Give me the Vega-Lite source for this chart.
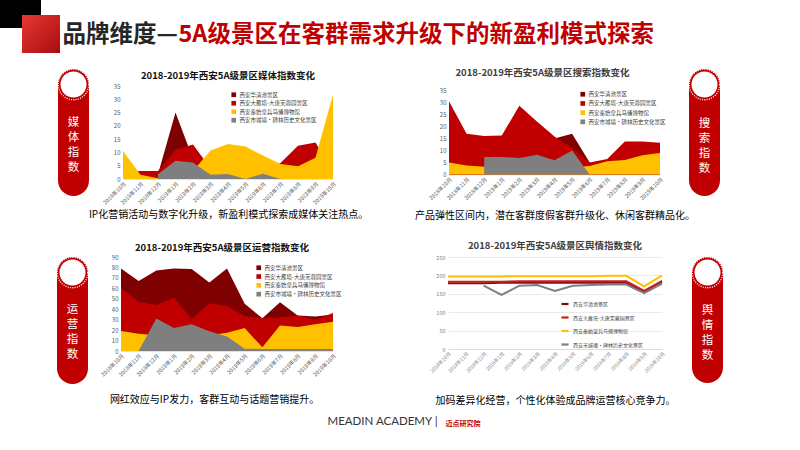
{
  "$schema": "https://vega.github.io/schema/vega-lite/v6.json",
  "background": "white",
  "padding": 0,
  "spacing": 0,
  "resolve": {"scale": {"color": "independent"}, "legend": {"color": "independent"}},
  "config": {
    "view": {"stroke": null},
    "font": "Noto Sans CJK SC"
  },
  "datasets": {
    "media": [
      {"m": "2018年10月", "西安华清池景区": 1, "西安大雁塔-大唐芙蓉园景区": 3, "西安秦始皇兵马俑博物馆": 10.5, "西安市城墙·碑林历史文化景区": null},
      {"m": "2018年11月", "西安华清池景区": 1, "西安大雁塔-大唐芙蓉园景区": 3, "西安秦始皇兵马俑博物馆": 1.6, "西安市城墙·碑林历史文化景区": null},
      {"m": "2018年12月", "西安华清池景区": 1.8, "西安大雁塔-大唐芙蓉园景区": 3, "西安秦始皇兵马俑博物馆": 0.3, "西安市城墙·碑林历史文化景区": 1.8},
      {"m": "2019年1月", "西安华清池景区": 25, "西安大雁塔-大唐芙蓉园景区": 11, "西安秦始皇兵马俑博物馆": 0, "西安市城墙·碑林历史文化景区": 6.9},
      {"m": "2019年2月", "西安华清池景区": 7.5, "西安大雁塔-大唐芙蓉园景区": 13, "西安秦始皇兵马俑博物馆": 3, "西安市城墙·碑林历史文化景区": 6.2},
      {"m": "2019年3月", "西安华清池景区": 2.5, "西安大雁塔-大唐芙蓉园景区": 4, "西安秦始皇兵马俑博物馆": 10.7, "西安市城墙·碑林历史文化景区": 1.6},
      {"m": "2019年4月", "西安华清池景区": 2, "西安大雁塔-大唐芙蓉园景区": 3, "西安秦始皇兵马俑博物馆": 13.2, "西安市城墙·碑林历史文化景区": 1.9},
      {"m": "2019年5月", "西安华清池景区": 1.5, "西安大雁塔-大唐芙蓉园景区": 3, "西安秦始皇兵马俑博物馆": 12.2, "西安市城墙·碑林历史文化景区": 0},
      {"m": "2019年6月", "西安华清池景区": 1.5, "西安大雁塔-大唐芙蓉园景区": 3, "西安秦始皇兵马俑博物馆": 8.8, "西安市城墙·碑林历史文化景区": 2},
      {"m": "2019年7月", "西安华清池景区": 1, "西安大雁塔-大唐芙蓉园景区": 6, "西安秦始皇兵马俑博物馆": 5.6, "西安市城墙·碑林历史文化景区": 0},
      {"m": "2019年8月", "西安华清池景区": 1, "西安大雁塔-大唐芙蓉园景区": 12.5, "西安秦始皇兵马俑博物馆": 4.8, "西安市城墙·碑林历史文化景区": 0},
      {"m": "2019年9月", "西安华清池景区": 1, "西安大雁塔-大唐芙蓉园景区": 13.7, "西安秦始皇兵马俑博物馆": 8, "西安市城墙·碑林历史文化景区": 0},
      {"m": "2019年10月", "西安华清池景区": 2, "西安大雁塔-大唐芙蓉园景区": 3, "西安秦始皇兵马俑博物馆": 31.8, "西安市城墙·碑林历史文化景区": 0}
    ],
    "search": [
      {"m": "2018年10月", "西安华清池景区": 2, "西安大雁塔-大唐芙蓉园景区": 30.5, "西安秦始皇兵马俑博物馆": 5, "西安市城墙·碑林历史文化景区": null},
      {"m": "2018年11月", "西安华清池景区": 2, "西安大雁塔-大唐芙蓉园景区": 17, "西安秦始皇兵马俑博物馆": 3.8, "西安市城墙·碑林历史文化景区": null},
      {"m": "2018年12月", "西安华清池景区": 2, "西安大雁塔-大唐芙蓉园景区": 16, "西安秦始皇兵马俑博物馆": 3.2, "西安市城墙·碑林历史文化景区": 7.3},
      {"m": "2019年1月", "西安华清池景区": 2, "西安大雁塔-大唐芙蓉园景区": 16.3, "西安秦始皇兵马俑博物馆": 3, "西安市城墙·碑林历史文化景区": 7.3},
      {"m": "2019年2月", "西安华清池景区": 3, "西安大雁塔-大唐芙蓉园景区": 28.6, "西安秦始皇兵马俑博物馆": 3, "西安市城墙·碑林历史文化景区": 6.9},
      {"m": "2019年3月", "西安华清池景区": 8, "西安大雁塔-大唐芙蓉园景区": 22.1, "西安秦始皇兵马俑博物馆": 3, "西安市城墙·碑林历史文化景区": 8.2},
      {"m": "2019年4月", "西安华清池景区": 15, "西安大雁塔-大唐芙蓉园景区": 15.8, "西安秦始皇兵马俑博物馆": 3, "西安市城墙·碑林历史文化景区": 5.9},
      {"m": "2019年5月", "西安华清池景区": 17, "西安大雁塔-大唐芙蓉园景区": 11, "西安秦始皇兵马俑博物馆": 3, "西安市城墙·碑林历史文化景区": 10},
      {"m": "2019年6月", "西安华清池景区": 5, "西安大雁塔-大唐芙蓉园景区": 5, "西安秦始皇兵马俑博物馆": 3.5, "西安市城墙·碑林历史文化景区": 0},
      {"m": "2019年7月", "西安华清池景区": 3, "西安大雁塔-大唐芙蓉园景区": 6.5, "西安秦始皇兵马俑博物馆": 5.5, "西安市城墙·碑林历史文化景区": 0},
      {"m": "2019年8月", "西安华清池景区": 3, "西安大雁塔-大唐芙蓉园景区": 13.8, "西安秦始皇兵马俑博物馆": 6, "西安市城墙·碑林历史文化景区": 0},
      {"m": "2019年9月", "西安华清池景区": 3, "西安大雁塔-大唐芙蓉园景区": 13.8, "西安秦始皇兵马俑博物馆": 8, "西安市城墙·碑林历史文化景区": 0},
      {"m": "2019年10月", "西安华清池景区": 3, "西安大雁塔-大唐芙蓉园景区": 13.2, "西安秦始皇兵马俑博物馆": 9, "西安市城墙·碑林历史文化景区": 0}
    ],
    "ops": [
      {"m": "2018年10月", "西安华清池景区": 79, "西安大雁塔-大唐芙蓉园景区": 60.6, "西安秦始皇兵马俑博物馆": 19.1, "西安市城墙·碑林历史文化景区": null},
      {"m": "2018年11月", "西安华清池景区": 67, "西安大雁塔-大唐芙蓉园景区": 47, "西安秦始皇兵马俑博物馆": 16.6, "西安市城墙·碑林历史文化景区": 0},
      {"m": "2018年12月", "西安华清池景区": 77, "西安大雁塔-大唐芙蓉园景区": 44, "西安秦始皇兵马俑博物馆": 15, "西安市城墙·碑林历史文化景区": 31},
      {"m": "2019年1月", "西安华清池景区": 79, "西安大雁塔-大唐芙蓉园景区": 51, "西安秦始皇兵马俑博物馆": 15, "西安市城墙·碑林历史文化景区": 22},
      {"m": "2019年2月", "西安华清池景区": 78.5, "西安大雁塔-大唐芙蓉园景区": 30.3, "西安秦始皇兵马俑博物馆": 15, "西安市城墙·碑林历史文化景区": 25.5},
      {"m": "2019年3月", "西安华清池景区": 65.5, "西安大雁塔-大唐芙蓉园景区": 45.6, "西安秦始皇兵马俑博物馆": 15, "西安市城墙·碑林历史文化景区": 19},
      {"m": "2019年4月", "西安华清池景区": 79, "西安大雁塔-大唐芙蓉园景区": 43, "西安秦始皇兵马俑博物馆": 17.5, "西安市城墙·碑林历史文化景区": 14},
      {"m": "2019年5月", "西安华清池景区": 45.3, "西安大雁塔-大唐芙蓉园景区": 33.2, "西安秦始皇兵马俑博物馆": 22, "西安市城墙·碑林历史文化景区": 2.2},
      {"m": "2019年6月", "西安华清池景区": 31.3, "西安大雁塔-大唐芙蓉园景区": 31.5, "西安秦始皇兵马俑博物馆": 3.5, "西安市城墙·碑林历史文化景区": 2},
      {"m": "2019年7月", "西安华清池景区": 46.6, "西安大雁塔-大唐芙蓉园景区": 32, "西安秦始皇兵马俑博物馆": 24.3, "西安市城墙·碑林历史文化景区": 2},
      {"m": "2019年8月", "西安华清池景区": 34, "西安大雁塔-大唐芙蓉园景区": 34, "西安秦始皇兵马俑博物馆": 23, "西安市城墙·碑林历史文化景区": 2},
      {"m": "2019年9月", "西安华清池景区": 33, "西安大雁塔-大唐芙蓉园景区": 30, "西安秦始皇兵马俑博物馆": 25.5, "西安市城墙·碑林历史文化景区": 2},
      {"m": "2019年10月", "西安华清池景区": 35, "西安大雁塔-大唐芙蓉园景区": 36.5, "西安秦始皇兵马俑博物馆": 28.1, "西安市城墙·碑林历史文化景区": 2}
    ],
    "opinion": [
      {"m": "2018年10月", "西安华清池景区": 179, "西安大雁塔-大唐芙蓉园景区": 183, "西安秦始皇兵马俑博物馆": 197, "西安市城墙·碑林历史文化景区": null},
      {"m": "2018年11月", "西安华清池景区": 179, "西安大雁塔-大唐芙蓉园景区": 183, "西安秦始皇兵马俑博物馆": 197, "西安市城墙·碑林历史文化景区": null},
      {"m": "2018年12月", "西安华清池景区": 179, "西安大雁塔-大唐芙蓉园景区": 183, "西安秦始皇兵马俑博物馆": 197, "西安市城墙·碑林历史文化景区": 172},
      {"m": "2019年1月", "西安华清池景区": 180, "西安大雁塔-大唐芙蓉园景区": 183, "西安秦始皇兵马俑博物馆": 197, "西安市城墙·碑林历史文化景区": 147},
      {"m": "2019年2月", "西安华清池景区": 180, "西安大雁塔-大唐芙蓉园景区": 184, "西安秦始皇兵马俑博物馆": 198, "西安市城墙·碑林历史文化景区": 172},
      {"m": "2019年3月", "西安华清池景区": 180, "西安大雁塔-大唐芙蓉园景区": 184, "西安秦始皇兵马俑博物馆": 198, "西安市城墙·碑林历史文化景区": 174},
      {"m": "2019年4月", "西安华清池景区": 180, "西安大雁塔-大唐芙蓉园景区": 184, "西安秦始皇兵马俑博物馆": 198, "西安市城墙·碑林历史文化景区": 158},
      {"m": "2019年5月", "西安华清池景区": 180, "西安大雁塔-大唐芙蓉园景区": 184, "西安秦始皇兵马俑博物馆": 198, "西安市城墙·碑林历史文化景区": 172},
      {"m": "2019年6月", "西安华清池景区": 180, "西安大雁塔-大唐芙蓉园景区": 184, "西安秦始皇兵马俑博物馆": 198, "西安市城墙·碑林历史文化景区": 174},
      {"m": "2019年7月", "西安华清池景区": 180, "西安大雁塔-大唐芙蓉园景区": 184, "西安秦始皇兵马俑博物馆": 199, "西安市城墙·碑林历史文化景区": 175},
      {"m": "2019年8月", "西安华清池景区": 180, "西安大雁塔-大唐芙蓉园景区": 184, "西安秦始皇兵马俑博物馆": 199, "西安市城墙·碑林历史文化景区": 175},
      {"m": "2019年9月", "西安华清池景区": 155, "西安大雁塔-大唐芙蓉园景区": 158, "西安秦始皇兵马俑博物馆": 170, "西安市城墙·碑林历史文化景区": 152},
      {"m": "2019年10月", "西安华清池景区": 182, "西安大雁塔-大唐芙蓉园景区": 185, "西安秦始皇兵马俑博物馆": 200, "西安市城墙·碑林历史文化景区": 178}
    ]
  },
  "vconcat": [
    {
      "spacing": 0,
      "hconcat": [
        {
          "width": 62, "height": 66,
          "data": {"values": [{}]},
          "layer": [
            {"mark": {"type": "point", "shape": "square", "filled": true, "color": "#000000", "opacity": 1, "size": 1681, "xOffset": -10.5, "yOffset": -25.5, "clip": true, "strokeWidth": 0}, "encoding": {}},
            {"mark": {"type": "point", "shape": "square", "filled": true, "opacity": 1, "size": 1444, "xOffset": 10, "yOffset": 1, "strokeWidth": 0, "fill": {"gradient": "linear", "x1": 0, "y1": 0, "x2": 1, "y2": 1, "stops": [{"offset": 0, "color": "#e8392f"}, {"offset": 1, "color": "#a60c12"}]}}, "encoding": {}}
          ]
        },
        {
          "width": 1, "height": 66,
          "data": {"values": [{"t": "品牌维度—"}]},
          "mark": {"type": "text", "align": "left", "baseline": "middle", "fontSize": 23.5, "fontWeight": "bold", "color": "#262626", "dy": 1.5},
          "encoding": {"text": {"field": "t"}}
        },
        {
          "width": 1, "height": 66,
          "data": {"values": [{"t": "5A级景区在客群需求升级下的新盈利模式探索"}]},
          "mark": {"type": "text", "align": "left", "baseline": "middle", "fontSize": 23.5, "fontWeight": "bold", "color": "#c00000", "dy": 1.5},
          "encoding": {"text": {"field": "t"}}
        }
      ]
    },
    {
      "spacing": 0,
      "bounds": "flush",
      "center": true,
      "resolve": {"scale": {"color": "independent"}, "legend": {"color": "independent"}},
      "hconcat": [
        {"width": 58, "height": 1, "data": {"values": [{}]}, "mark": {"type": "text", "text": ""}},
        {
          "width": 31, "height": 127,
          "view": {"fill": "#c00000", "cornerRadius": 15.5, "stroke": null},
          "data": {"values": [{"t": ["媒", "体", "指", "数"]}]},
          "layer": [
            {"mark": {"type": "point", "shape": "circle", "filled": true, "color": "#ffffff", "opacity": 1, "size": 676, "yOffset": -48, "strokeWidth": 0}, "encoding": {}},
            {"mark": {"type": "point", "shape": "circle", "filled": false, "color": "#ffffff", "opacity": 1, "size": 930, "yOffset": -48, "strokeWidth": 1.3, "strokeDash": [1, 1.3]}, "encoding": {}},
            {"mark": {"type": "text", "fontSize": 11.5, "lineHeight": 15, "color": "#ffffff", "baseline": "top", "dy": -16}, "encoding": {"text": {"field": "t"}}}
          ]
        },
        {"width": 34, "height": 1, "data": {"values": [{}]}, "mark": {"type": "text", "text": ""}},
        {
          "width": 210, "height": 93,
          "title": {"text": "2018-2019年西安5A级景区媒体指数变化", "fontSize": 9.5, "fontWeight": "bold", "color": "#111111", "offset": 2.5},
          "data": {"name": "media"},
          "transform": [{"fold": ["西安华清池景区", "西安大雁塔-大唐芙蓉园景区", "西安秦始皇兵马俑博物馆", "西安市城墙·碑林历史文化景区"], "as": ["s", "v"]}],
          "mark": {"type": "area", "opacity": 1},
          "encoding": {
            "x": {"field": "m", "type": "ordinal", "sort": ["2018年10月", "2018年11月", "2018年12月", "2019年1月", "2019年2月", "2019年3月", "2019年4月", "2019年5月", "2019年6月", "2019年7月", "2019年8月", "2019年9月", "2019年10月"], "scale": {"type": "point", "padding": 0},
              "axis": {"title": "IP化营销活动与数字化升级，新盈利模式探索成媒体关注热点。", "titleFontSize": 10, "titleFontWeight": "normal", "titleColor": "#000000", "titlePadding": 4, "labelAngle": -45, "labelFontSize": 5.5, "labelColor": "#595959", "labelOverlap": false, "labelPadding": 2, "ticks": false, "domainColor": "#d9d9d9", "domainWidth": 0.8}},
            "y": {"field": "v", "type": "quantitative", "stack": null, "scale": {"domain": [0, 35]},
              "axis": {"title": null, "values": [0, 5, 10, 15, 20, 25, 30, 35], "labelFontSize": 6, "labelColor": "#595959", "domain": false, "ticks": false, "grid": false, "labelPadding": 3}},
            "color": {"field": "s", "type": "nominal",
              "scale": {"domain": ["西安华清池景区", "西安大雁塔-大唐芙蓉园景区", "西安秦始皇兵马俑博物馆", "西安市城墙·碑林历史文化景区"], "range": ["#7f0000", "#c00000", "#ffc000", "#7f7f7f"]},
              "legend": {"title": null, "orient": "none", "legendX": 108, "legendY": 6, "direction": "vertical", "symbolType": "square", "symbolSize": 22, "symbolStrokeWidth": 0, "labelFontSize": 5.5, "labelColor": "#404040", "rowPadding": 1.5, "labelOffset": 3, "padding": 0, "labelLimit": 200}}
          }
        },
        {"width": 116, "height": 1, "data": {"values": [{}]}, "mark": {"type": "text", "text": ""}},
        {
          "width": 211, "height": 84,
          "title": {"text": "2018-2019年西安5A级景区搜索指数变化", "fontSize": 9.5, "fontWeight": "bold", "color": "#404040", "offset": 10, "dx": -12},
          "data": {"name": "search"},
          "transform": [{"fold": ["西安华清池景区", "西安大雁塔-大唐芙蓉园景区", "西安秦始皇兵马俑博物馆", "西安市城墙·碑林历史文化景区"], "as": ["s", "v"]}],
          "mark": {"type": "area", "opacity": 1},
          "encoding": {
            "x": {"field": "m", "type": "ordinal", "sort": ["2018年10月", "2018年11月", "2018年12月", "2019年1月", "2019年2月", "2019年3月", "2019年4月", "2019年5月", "2019年6月", "2019年7月", "2019年8月", "2019年9月", "2019年10月"], "scale": {"type": "point", "padding": 0},
              "axis": {"title": "产品弹性区间内，潜在客群度假客群升级化、休闲客群精品化。", "titleFontSize": 10, "titleFontWeight": "normal", "titleColor": "#000000", "titlePadding": 9, "labelAngle": -45, "labelFontSize": 5.5, "labelColor": "#595959", "labelOverlap": false, "labelPadding": 2, "ticks": false, "domainColor": "#d9d9d9", "domainWidth": 0.8}},
            "y": {"field": "v", "type": "quantitative", "stack": null, "scale": {"domain": [0, 35]},
              "axis": {"title": null, "values": [0, 5, 10, 15, 20, 25, 30, 35], "labelFontSize": 6, "labelColor": "#595959", "domain": false, "ticks": false, "grid": false, "labelPadding": 3}},
            "color": {"field": "s", "type": "nominal",
              "scale": {"domain": ["西安华清池景区", "西安大雁塔-大唐芙蓉园景区", "西安秦始皇兵马俑博物馆", "西安市城墙·碑林历史文化景区"], "range": ["#7f0000", "#c00000", "#ffc000", "#7f7f7f"]},
              "legend": {"title": null, "orient": "none", "legendX": 131, "legendY": 1, "direction": "vertical", "symbolType": "square", "symbolSize": 22, "symbolStrokeWidth": 0, "labelFontSize": 5.5, "labelColor": "#404040", "rowPadding": 2.2, "labelOffset": 3, "padding": 0, "labelLimit": 200}}
          }
        },
        {"width": 29, "height": 1, "data": {"values": [{}]}, "mark": {"type": "text", "text": ""}},
        {
          "width": 31, "height": 127,
          "view": {"fill": "#c00000", "cornerRadius": 15.5, "stroke": null},
          "data": {"values": [{"t": ["搜", "索", "指", "数"]}]},
          "layer": [
            {"mark": {"type": "point", "shape": "circle", "filled": true, "color": "#ffffff", "opacity": 1, "size": 676, "yOffset": -48, "strokeWidth": 0}, "encoding": {}},
            {"mark": {"type": "point", "shape": "circle", "filled": false, "color": "#ffffff", "opacity": 1, "size": 930, "yOffset": -48, "strokeWidth": 1.3, "strokeDash": [1, 1.3]}, "encoding": {}},
            {"mark": {"type": "text", "fontSize": 11.5, "lineHeight": 15, "color": "#ffffff", "baseline": "top", "dy": -15}, "encoding": {"text": {"field": "t"}}}
          ]
        }
      ]
    },
    {"width": 1, "height": 20, "data": {"values": [{}]}, "mark": {"type": "text", "text": ""}},
    {
      "spacing": 0,
      "bounds": "flush",
      "resolve": {"scale": {"color": "independent"}, "legend": {"color": "independent"}},
      "hconcat": [
        {"width": 57, "height": 1, "data": {"values": [{}]}, "mark": {"type": "text", "text": ""}},
        {
          "width": 31, "height": 127,
          "view": {"fill": "#c00000", "cornerRadius": 15.5, "stroke": null},
          "data": {"values": [{"t": ["运", "营", "指", "数"]}]},
          "layer": [
            {"mark": {"type": "point", "shape": "circle", "filled": true, "color": "#ffffff", "opacity": 1, "size": 676, "yOffset": -48, "strokeWidth": 0}, "encoding": {}},
            {"mark": {"type": "point", "shape": "circle", "filled": false, "color": "#ffffff", "opacity": 1, "size": 930, "yOffset": -48, "strokeWidth": 1.3, "strokeDash": [1, 1.3]}, "encoding": {}},
            {"mark": {"type": "text", "fontSize": 11.5, "lineHeight": 15, "color": "#ffffff", "baseline": "top", "dy": -17}, "encoding": {"text": {"field": "t"}}}
          ]
        },
        {"width": 33, "height": 1, "data": {"values": [{}]}, "mark": {"type": "text", "text": ""}},
        {
          "width": 212, "height": 94,
          "title": {"text": "2018-2019年西安5A级景区运营指数变化", "fontSize": 9.5, "fontWeight": "bold", "color": "#111111", "offset": 1.5, "dx": -5},
          "data": {"name": "ops"},
          "transform": [{"fold": ["西安华清池景区", "西安大雁塔-大唐芙蓉园景区", "西安秦始皇兵马俑博物馆", "西安市城墙·碑林历史文化景区"], "as": ["s", "v"]}],
          "mark": {"type": "area", "opacity": 1},
          "encoding": {
            "x": {"field": "m", "type": "ordinal", "sort": ["2018年10月", "2018年11月", "2018年12月", "2019年1月", "2019年2月", "2019年3月", "2019年4月", "2019年5月", "2019年6月", "2019年7月", "2019年8月", "2019年9月", "2019年10月"], "scale": {"type": "point", "padding": 0},
              "axis": {"title": "网红效应与IP发力，客群互动与话题营销提升。", "titleFontSize": 10, "titleFontWeight": "normal", "titleColor": "#000000", "titlePadding": 17, "titleX": 93, "labelAngle": -45, "labelFontSize": 5.5, "labelColor": "#595959", "labelOverlap": false, "labelPadding": 2, "ticks": false, "domainColor": "#d9d9d9", "domainWidth": 0.8}},
            "y": {"field": "v", "type": "quantitative", "stack": null, "scale": {"domain": [0, 90]},
              "axis": {"title": null, "values": [0, 10, 20, 30, 40, 50, 60, 70, 80, 90], "labelFontSize": 6, "labelColor": "#595959", "domain": false, "ticks": false, "grid": false, "labelPadding": 3}},
            "color": {"field": "s", "type": "nominal",
              "scale": {"domain": ["西安华清池景区", "西安大雁塔-大唐芙蓉园景区", "西安秦始皇兵马俑博物馆", "西安市城墙·碑林历史文化景区"], "range": ["#7f0000", "#c00000", "#ffc000", "#7f7f7f"]},
              "legend": {"title": null, "orient": "none", "legendX": 135, "legendY": 8, "direction": "vertical", "symbolType": "square", "symbolSize": 22, "symbolStrokeWidth": 0, "labelFontSize": 5.5, "labelColor": "#404040", "rowPadding": 1.8, "labelOffset": 3, "padding": 0, "labelLimit": 200}}
          }
        },
        {"width": 115, "height": 1, "data": {"values": [{}]}, "mark": {"type": "text", "text": ""}},
        {
          "width": 214, "height": 92,
          "title": {"text": "2018-2019年西安5A级景区舆情指数变化", "fontSize": 9.5, "fontWeight": "bold", "color": "#404040", "offset": 4.5},
          "data": {"name": "opinion"},
          "transform": [{"fold": ["西安华清池景区", "西安大雁塔-大唐芙蓉园景区", "西安秦始皇兵马俑博物馆", "西安市城墙·碑林历史文化景区"], "as": ["s", "v"]}],
          "mark": {"type": "line", "strokeWidth": 2},
          "encoding": {
            "x": {"field": "m", "type": "ordinal", "sort": ["2018年10月", "2018年11月", "2018年12月", "2019年1月", "2019年2月", "2019年3月", "2019年4月", "2019年5月", "2019年6月", "2019年7月", "2019年8月", "2019年9月", "2019年10月"], "scale": {"type": "point", "padding": 0},
              "axis": {"title": "加码差异化经营，个性化体验成品牌运营核心竞争力。", "titleFontSize": 10, "titleFontWeight": "normal", "titleColor": "#000000", "titlePadding": 22, "labelAngle": -45, "labelFontSize": 5, "labelColor": "#7f7f7f", "labelOverlap": false, "labelPadding": 2, "ticks": false, "domainColor": "#d9d9d9", "domainWidth": 0.8}},
            "y": {"field": "v", "type": "quantitative", "scale": {"domain": [0, 250]},
              "axis": {"title": null, "values": [0, 50, 100, 150, 200, 250], "labelFontSize": 5.5, "labelColor": "#7f7f7f", "domain": false, "ticks": false, "grid": true, "gridColor": "#e3e3e3", "gridWidth": 0.7, "labelPadding": 3}},
            "color": {"field": "s", "type": "nominal",
              "scale": {"domain": ["西安华清池景区", "西安大雁塔-大唐芙蓉园景区", "西安秦始皇兵马俑博物馆", "西安市城墙·碑林历史文化景区"], "range": ["#7f1010", "#c81e1e", "#ffc000", "#7f7f7f"]},
              "legend": {"title": null, "orient": "none", "legendX": 112, "legendY": 42, "direction": "vertical", "symbolType": "stroke", "symbolSize": 50, "symbolStrokeWidth": 2.2, "labelFontSize": 5, "labelColor": "#404040", "rowPadding": 3.5, "labelOffset": 3, "padding": 0, "labelLimit": 200}}
          }
        },
        {"width": 30, "height": 1, "data": {"values": [{}]}, "mark": {"type": "text", "text": ""}},
        {
          "width": 31, "height": 126,
          "view": {"fill": "#c00000", "cornerRadius": 15.5, "stroke": null},
          "data": {"values": [{"t": ["舆", "情", "指", "数"]}]},
          "layer": [
            {"mark": {"type": "point", "shape": "circle", "filled": true, "color": "#ffffff", "opacity": 1, "size": 676, "yOffset": -47.5, "strokeWidth": 0}, "encoding": {}},
            {"mark": {"type": "point", "shape": "circle", "filled": false, "color": "#ffffff", "opacity": 1, "size": 930, "yOffset": -47.5, "strokeWidth": 1.3, "strokeDash": [1, 1.3]}, "encoding": {}},
            {"mark": {"type": "text", "fontSize": 11.5, "lineHeight": 15, "color": "#ffffff", "baseline": "top", "dy": -15}, "encoding": {"text": {"field": "t"}}}
          ]
        }
      ]
    },
    {
      "spacing": 0,
      "hconcat": [
        {"width": 327, "height": 32, "data": {"values": [{}]}, "mark": {"type": "text", "text": ""}},
        {
          "width": 1, "height": 32,
          "data": {"values": [{"t": "MEADIN ACADEMY |"}]},
          "mark": {"type": "text", "align": "left", "baseline": "middle", "fontSize": 11.5, "font": "Lato", "color": "#333333"},
          "encoding": {"text": {"field": "t"}}
        },
        {"width": 6, "height": 32, "data": {"values": [{}]}, "mark": {"type": "text", "text": ""}},
        {
          "width": 1, "height": 32,
          "data": {"values": [{"t": "迈点研究院"}]},
          "mark": {"type": "text", "align": "left", "baseline": "middle", "fontSize": 7, "fontWeight": "bold", "color": "#c00000", "dy": 2},
          "encoding": {"text": {"field": "t"}}
        }
      ]
    }
  ]
}
